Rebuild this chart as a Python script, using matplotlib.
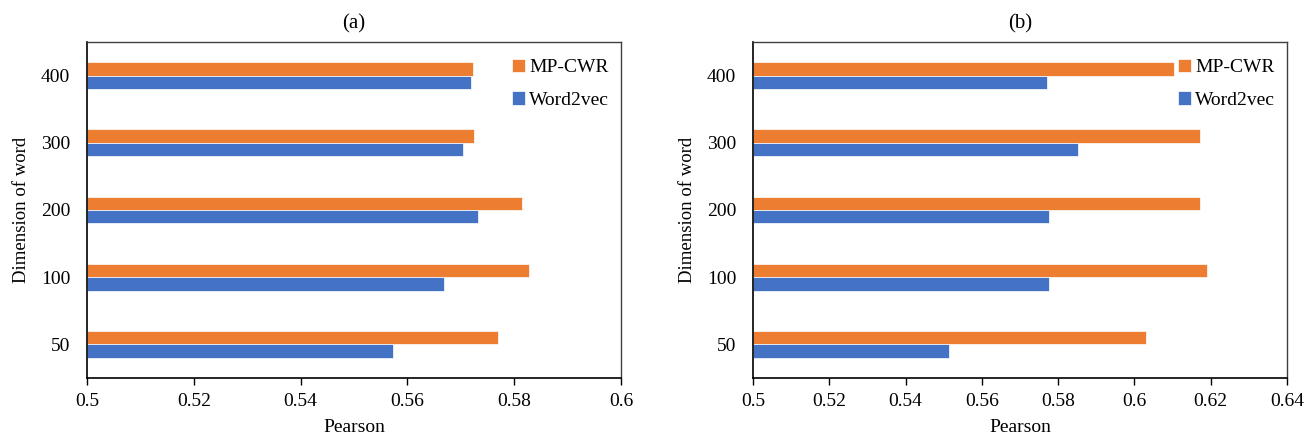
import matplotlib.pyplot as plt
import numpy as np

plt.rcParams['font.family'] = ['Liberation Serif', 'DejaVu Serif']

dims = ['50', '100', '200', '300', '400']
mpcwr_a = [0.5770, 0.5827, 0.5815, 0.5724, 0.5723]
w2v_a = [0.5573, 0.5668, 0.5733, 0.5704, 0.5720]
mpcwr_b = [0.6031, 0.6190, 0.6172, 0.6171, 0.6104]
w2v_b = [0.5513, 0.5777, 0.5776, 0.5852, 0.5771]

orange = '#ED7D31'
blue = '#4472C4'

fig = plt.figure(figsize=(13.09, 4.38), dpi=100)
ax1 = fig.add_axes([87 / 1309, 60 / 438, 534 / 1309, 336 / 438])
ax2 = fig.add_axes([753 / 1309, 60 / 438, 534 / 1309, 336 / 438])


def draw(ax, mp, wv, xmax, title):
    y = np.arange(len(dims))
    h = 0.2
    ax.barh(y + h / 2, np.array(mp) - 0.5, h, left=0.5, color=orange,
            label='MP-CWR', edgecolor='white', linewidth=0.5)
    ax.barh(y - h / 2, np.array(wv) - 0.5, h, left=0.5, color=blue,
            label='Word2vec', edgecolor='white', linewidth=0.5)
    ax.set_xlim(0.5, xmax)
    ax.set_ylim(-0.5, 4.5)
    ticks = np.arange(0.5, xmax + 0.001, 0.02)
    ax.set_xticks(ticks)
    ax.set_xticklabels([('%.2f' % v).rstrip('0').rstrip('.') for v in ticks])
    ax.set_yticks(y)
    ax.set_yticklabels(dims)
    ax.tick_params(axis='both', labelsize=14)
    ax.tick_params(axis='y', length=0, pad=12)
    ax.tick_params(axis='x', direction='out', length=5, width=1, pad=6)
    for s in ['top', 'right']:
        ax.spines[s].set_color('#404040')
        ax.spines[s].set_linewidth(1.0)
    for s in ['left', 'bottom']:
        ax.spines[s].set_color('black')
        ax.spines[s].set_linewidth(1.2)
    ax.set_xlabel('Pearson', fontsize=14, labelpad=6)
    ax.set_ylabel('Dimension of word', fontsize=13.5, labelpad=8)
    ax.set_title(title, fontsize=15, pad=10)
    ax.legend(loc='upper right', frameon=False, fontsize=14,
              handlelength=0.7, handleheight=0.7, handletextpad=0.2,
              labelspacing=0.75, borderaxespad=0.2,
              bbox_to_anchor=(1.0, 0.985))


draw(ax1, mpcwr_a, w2v_a, 0.6, '(a)')
draw(ax2, mpcwr_b, w2v_b, 0.64, '(b)')

fig.savefig('out.png', dpi=100)
